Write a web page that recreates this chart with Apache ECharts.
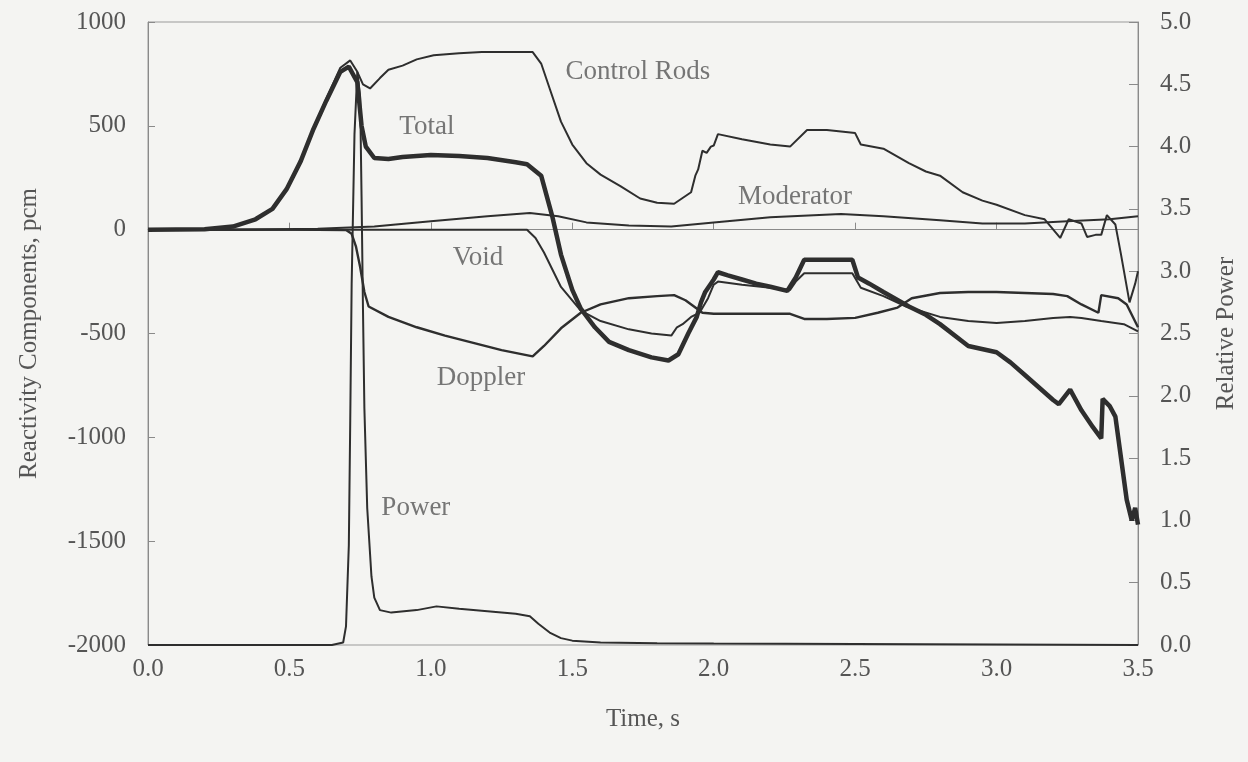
<!DOCTYPE html>
<html>
<head>
<meta charset="utf-8">
<script src="https://cdn.jsdelivr.net/npm/echarts@6/dist/echarts.min.js"></script>
<style>
html,body{margin:0;padding:0;background:#f4f4f2;}
#chart{width:1248px;height:762px;}
</style>
</head>
<body>
<div id="chart"></div>
<script>
// X axis ticks
const xTicks = [0.0, 0.5, 1.0, 1.5, 2.0, 2.5, 3.0, 3.5];

// Total reactivity (pcm)
const totalT = [0,0.2,0.3,0.38,0.44,0.49,0.54,0.585,0.63,0.68,0.71,0.74,0.755,0.77,0.80,0.85,0.9,1.0,1.1,1.2,1.3,1.34,1.39,1.43,1.46,1.5,1.53,1.58,1.63,1.7,1.78,1.84,1.875,1.91,1.94,1.955,1.97,1.99,2.0,2.015,2.05,2.1,2.15,2.2,2.26,2.29,2.32,2.4,2.49,2.51,2.55,2.6,2.69,2.75,2.8,2.9,3.0,3.05,3.1,3.15,3.2,3.22,3.26,3.3,3.34,3.37,3.375,3.40,3.42,3.44,3.46,3.478,3.49,3.5];
const totalV = [0,2,15,50,100,195,330,485,620,760,785,710,500,400,345,340,350,360,355,345,325,315,260,60,-120,-290,-380,-470,-540,-580,-615,-630,-600,-500,-420,-350,-300,-260,-240,-205,-220,-240,-260,-275,-295,-230,-145,-145,-145,-230,-260,-300,-370,-410,-455,-560,-590,-640,-700,-760,-820,-840,-770,-870,-950,-1005,-815,-850,-900,-1100,-1300,-1400,-1340,-1420];

// Control rods reactivity (pcm)
const rodsT = [0,0.2,0.3,0.38,0.44,0.49,0.54,0.585,0.63,0.68,0.715,0.74,0.76,0.785,0.82,0.85,0.9,0.95,1.01,1.1,1.18,1.3,1.36,1.39,1.42,1.46,1.5,1.55,1.6,1.67,1.74,1.8,1.86,1.92,1.935,1.945,1.96,1.975,1.99,2.0,2.015,2.1,2.2,2.27,2.33,2.4,2.5,2.52,2.6,2.69,2.75,2.8,2.88,2.95,3.0,3.1,3.17,3.225,3.255,3.3,3.32,3.35,3.37,3.39,3.42,3.44,3.47,3.49,3.5];
const rodsV = [0,2,15,50,100,195,330,485,630,780,815,760,700,680,730,770,790,820,840,850,855,855,855,800,680,520,410,320,265,210,150,130,125,180,260,290,380,370,400,405,460,435,410,400,480,480,465,410,390,320,280,260,180,140,120,70,50,-40,50,30,-35,-25,-25,70,25,-120,-350,-260,-200];

// Moderator reactivity (pcm)
const modT = [0,0.3,0.6,0.8,1.0,1.2,1.35,1.45,1.55,1.7,1.85,2.0,2.2,2.45,2.6,2.8,2.95,3.1,3.25,3.4,3.5];
const modV = [0,0,5,15,40,65,80,65,35,20,15,35,60,75,65,45,30,30,40,50,65];

// Void reactivity (pcm)
const voidT = [0,1.0,1.34,1.37,1.4,1.46,1.53,1.6,1.7,1.78,1.85,1.87,1.89,1.92,1.95,1.98,2.0,2.015,2.1,2.2,2.27,2.29,2.32,2.4,2.49,2.52,2.6,2.68,2.8,2.9,3.0,3.1,3.2,3.26,3.3,3.37,3.45,3.5];
const voidV = [0,0,0,-40,-110,-276,-390,-440,-480,-500,-510,-470,-455,-420,-400,-330,-265,-250,-265,-280,-290,-250,-210,-210,-210,-280,-320,-370,-420,-440,-450,-440,-425,-420,-425,-440,-455,-490];

// Doppler reactivity (pcm)
const dopT = [0,0.5,0.7,0.72,0.735,0.75,0.765,0.78,0.85,0.95,1.05,1.15,1.25,1.36,1.4,1.46,1.53,1.6,1.7,1.8,1.86,1.9,1.94,1.96,2.0,2.1,2.2,2.27,2.32,2.4,2.5,2.58,2.65,2.7,2.8,2.9,3.0,3.1,3.2,3.25,3.3,3.36,3.37,3.43,3.46,3.5];
const dopV = [0,0,-2,-20,-80,-180,-300,-370,-420,-470,-510,-545,-580,-610,-560,-475,-400,-360,-330,-320,-315,-340,-380,-400,-405,-405,-405,-405,-430,-430,-425,-400,-375,-330,-305,-300,-300,-305,-310,-320,-360,-400,-315,-330,-360,-470];

// Relative power (right axis)
const powT = [0,0.65,0.69,0.70,0.71,0.715,0.72,0.73,0.74,0.75,0.755,0.76,0.765,0.775,0.79,0.80,0.82,0.86,0.95,1.02,1.1,1.2,1.3,1.35,1.38,1.42,1.46,1.5,1.6,1.8,2.0,2.5,3.0,3.5];
const powV = [0,0,0.02,0.15,0.8,1.8,2.9,4.1,4.6,4.4,3.6,2.7,1.9,1.1,0.55,0.38,0.28,0.26,0.28,0.31,0.29,0.27,0.25,0.23,0.17,0.1,0.055,0.035,0.02,0.015,0.012,0.008,0.005,0.0];

// Curve labels (time, pcm, text)
const labelT = [1.732, 0.986, 2.287, 1.167, 1.177, 0.947];
const labelV = [759, 494, 157, -136, -714, -1340];
const labelText = ['Control Rods', 'Total', 'Moderator', 'Void', 'Doppler', 'Power'];

const zip = (a, b) => a.map((t, i) => [t, b[i]]);
const FONT = '"Liberation Serif", "Times New Roman", serif';
const TXT = '#555555';
const LINE = '#2e2e2e';

function lineSeries(name, t, v, width, yIdx) {
  return {
    name: name, type: 'line', yAxisIndex: yIdx || 0,
    data: zip(t, v), showSymbol: false, symbol: 'none',
    lineStyle: { color: LINE, width: width }, animation: false, z: 3
  };
}

const chart = echarts.init(document.getElementById('chart'), null, { renderer: 'canvas' });
chart.setOption({
  backgroundColor: '#f4f4f2',
  animation: false,
  grid: { left: 148, right: 110, top: 22, bottom: 117, show: true, borderColor: '#9a9a9a', borderWidth: 1, backgroundColor: 'transparent' },
  xAxis: {
    type: 'value', min: 0, max: 3.5, interval: 0.5,
    name: 'Time, s', nameLocation: 'middle', nameGap: 62,
    nameTextStyle: { fontFamily: FONT, fontSize: 25, color: TXT },
    axisLine: { show: true, lineStyle: { color: '#8a8a8a', width: 1 } },
    axisTick: { show: true, inside: true, length: 7, lineStyle: { color: '#8a8a8a' } },
    splitLine: { show: false },
    axisLabel: { fontFamily: FONT, fontSize: 25, color: TXT, margin: 12, formatter: v => v.toFixed(1) }
  },
  yAxis: [
    {
      type: 'value', min: -2000, max: 1000, interval: 500, position: 'left',
      name: 'Reactivity Components, pcm', nameLocation: 'middle', nameGap: 106,
      nameTextStyle: { fontFamily: FONT, fontSize: 25, color: TXT },
      axisLine: { show: true, lineStyle: { color: '#8a8a8a', width: 1 } },
      axisTick: { show: true, inside: true, length: 7, lineStyle: { color: '#8a8a8a' } },
      splitLine: { show: false },
      axisLabel: { fontFamily: FONT, fontSize: 25, color: TXT, margin: 22, formatter: v => String(v) }
    },
    {
      type: 'value', min: 0, max: 5, interval: 0.5, position: 'right',
      name: 'Relative Power', nameLocation: 'middle', nameGap: 76, nameRotate: 90,
      nameTextStyle: { fontFamily: FONT, fontSize: 25, color: TXT },
      axisLine: { show: true, lineStyle: { color: '#8a8a8a', width: 1 } },
      axisTick: { show: true, inside: true, length: 9, lineStyle: { color: '#8a8a8a' } },
      splitLine: { show: false },
      axisLabel: { fontFamily: FONT, fontSize: 25, color: TXT, margin: 22, formatter: v => v.toFixed(1) }
    }
  ],
  series: [
    lineSeries('Power', powT, powV, 2, 1),
    lineSeries('Moderator', modT, modV, 2),
    lineSeries('Void', voidT, voidV, 2),
    lineSeries('Doppler', dopT, dopV, 2.4),
    lineSeries('Control Rods', rodsT, rodsV, 2),
    lineSeries('Total', totalT, totalV, 4.5),
    {
      type: 'scatter', yAxisIndex: 0, symbolSize: 0, silent: true, z: 5,
      data: labelT.map((t, i) => ({ value: [t, labelV[i]], name: labelText[i] })),
      label: { show: true, position: 'inside', formatter: p => p.name, fontFamily: FONT, fontSize: 27, color: TXT }
    }
  ]
});
</script>
</body>
</html>
